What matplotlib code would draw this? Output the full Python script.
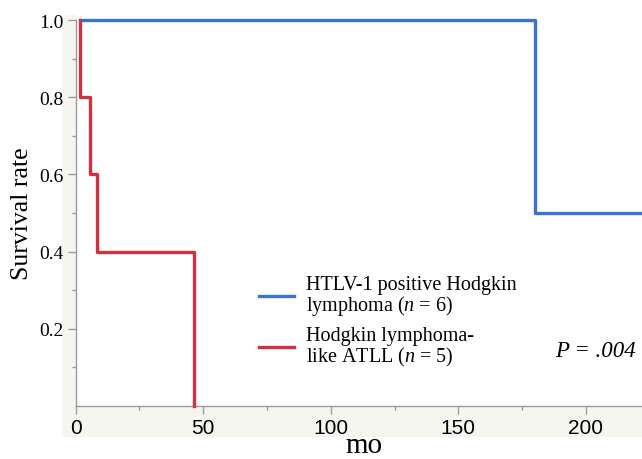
import matplotlib
matplotlib.use("Agg")
import matplotlib.pyplot as plt
from matplotlib.lines import Line2D
from matplotlib.patches import Rectangle

# Data (Kaplan-Meier steps, months)
blue_times = [1.5, 180, 222]
blue_surv = [1.0, 0.5, 0.5]
red_times = [1.5, 1.5, 5.5, 8.5, 46.5]
red_surv = [1.0, 0.8, 0.6, 0.4, 0.0]
blue_label = "HTLV-1 positive Hodgkin\nlymphoma ($n$ = 6)"
red_label = "Hodgkin lymphoma-\nlike ATLL ($n$ = 5)"
p_text = "P = .004"
x_label = "mo"
y_label = "Survival rate"
xticks = [0, 50, 100, 150, 200]
yticks = [0.2, 0.4, 0.6, 0.8, 1.0]

plt.rcParams['mathtext.fontset'] = 'custom'
plt.rcParams['mathtext.rm'] = 'Liberation Serif'
plt.rcParams['mathtext.it'] = 'Liberation Serif:italic'

W, H = 642, 460
fig = plt.figure(figsize=(W/100, H/100), dpi=100)
fig.patch.set_facecolor('white')

# light gray axis strips
strip = '#f6f6f1'
fig.patches.append(Rectangle((62/W, (H-438)/H), (W-62)/W, 31/H, transform=fig.transFigure,
                             facecolor=strip, edgecolor='none', zorder=-10))
fig.patches.append(Rectangle((62/W, (H-438)/H), 14/W, (438-16)/H, transform=fig.transFigure,
                             facecolor=strip, edgecolor='none', zorder=-10))

x0, x1 = 75.7, 642
yb, yt = 407, 21
ax = fig.add_axes([x0/W, (H-yb)/H, (x1-x0)/W, (yb-yt)/H])
ax.set_zorder(1)
ax.set_facecolor('white')
ax.set_xlim(0, 222)
ax.set_ylim(0, 1.0)

blue = '#3b72d6'
red = '#d2303f'
ax.step(blue_times, blue_surv, where='post', color=blue, lw=2.4, clip_on=False, zorder=3)
ax.step(red_times, red_surv, where='post', color=red, lw=2.4, clip_on=False, zorder=3)

for s in ['top', 'right']:
    ax.spines[s].set_visible(False)
for s in ['left', 'bottom']:
    ax.spines[s].set_color('#9a9a9a')
    ax.spines[s].set_linewidth(1.0)

ax.set_xticks(xticks)
ax.set_xticks([25, 75, 125, 175], minor=True)
ax.set_yticks(yticks)
ax.set_yticks([0.1, 0.3, 0.5, 0.7, 0.9], minor=True)
ax.tick_params(axis='both', which='major', direction='out', length=6, color='#9a9a9a', width=1)
ax.tick_params(axis='both', which='minor', direction='out', length=3, color='#9a9a9a', width=1)
ax.set_xticklabels([str(t) for t in xticks], fontfamily='Liberation Sans', fontsize=15)
ax.set_yticklabels([f"{t:.1f}" for t in yticks], fontfamily='Liberation Serif', fontsize=14)
ax.tick_params(axis='x', pad=3)
ax.tick_params(axis='y', pad=3)

ax.set_ylabel(y_label, fontfamily='Liberation Serif', fontsize=18.5, labelpad=4)
fig.text(364/W, 0.5/H, x_label, fontfamily='Liberation Serif', fontsize=21,
         ha='center', va='bottom')

handles = [Line2D([], [], color=blue, lw=2.4), Line2D([], [], color=red, lw=2.4)]
leg = ax.legend(handles, [blue_label, red_label], loc='upper left',
                bbox_to_anchor=(241/W, (H-258)/H), bbox_transform=fig.transFigure,
                frameon=False, prop={'family': 'Liberation Serif', 'size': 14.5},
                handlelength=1.75, handletextpad=0.6, labelspacing=0.45)
for t in leg.get_texts():
    t.set_linespacing(0.95)

fig.text(555/W, (H-352)/H, p_text, fontfamily='Liberation Serif', fontstyle='italic',
         fontsize=16.5, ha='left', va='center')

fig.savefig("out.png", dpi=100)
